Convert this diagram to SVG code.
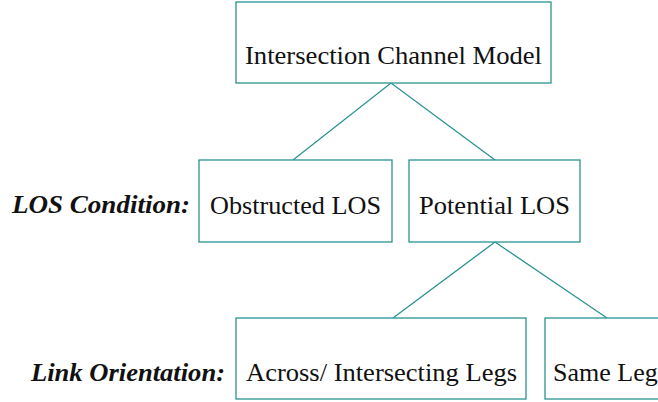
<svg xmlns="http://www.w3.org/2000/svg" width="658" height="402" viewBox="0 0 658 402">
  <style>
    .box { fill: #ffffff; stroke: #2a9292; stroke-width: 1.3; }
    .lbl { font-family: "Liberation Serif", "Times New Roman", Times, "Nimbus Roman", "Nimbus Roman No9 L", Tinos, "Noto Serif", "DejaVu Serif", FreeSerif, serif; font-size: 26px; fill: #111111; }
    .cat { font-family: "Liberation Serif", "Times New Roman", Times, "Nimbus Roman", "Nimbus Roman No9 L", Tinos, "Noto Serif", "DejaVu Serif", FreeSerif, serif; font-size: 26px; font-weight: bold; font-style: italic; fill: #111111; }
    .edge { stroke: #2a9292; stroke-width: 1.3; fill: none; }
  </style>
  <rect width="658" height="402" fill="#ffffff"/>

  <!-- tree connectors -->
  <g id="connectors">
    <polyline class="edge" points="293,160 391,83 495,160"/>
    <polyline class="edge" points="393,318 495,242 607,318"/>
  </g>

  <!-- level captions -->
  <text class="cat" x="12" y="213" textLength="178" lengthAdjust="spacingAndGlyphs">LOS Condition:</text>
  <text class="cat" x="31" y="381" textLength="194" lengthAdjust="spacingAndGlyphs">Link Orientation:</text>

  <g id="root">
    <rect class="box" x="236" y="2" width="315" height="81"/>
    <text class="lbl" x="245" y="64" textLength="297" lengthAdjust="spacingAndGlyphs">Intersection Channel Model</text>
  </g>

  <g id="obstructed">
    <rect class="box" x="199" y="160" width="193" height="82"/>
    <text class="lbl" x="210" y="214" textLength="171" lengthAdjust="spacingAndGlyphs">Obstructed LOS</text>
  </g>

  <g id="potential">
    <rect class="box" x="409" y="160" width="171" height="82"/>
    <text class="lbl" x="419" y="214" textLength="151" lengthAdjust="spacingAndGlyphs">Potential LOS</text>
  </g>

  <g id="across">
    <rect class="box" x="236" y="318" width="290" height="81"/>
    <text class="lbl" x="246" y="381" textLength="271" lengthAdjust="spacingAndGlyphs">Across/ Intersecting Legs</text>
  </g>

  <g id="same-leg">
    <rect class="box" x="545" y="318" width="130" height="81"/>
    <text class="lbl" x="553" y="381">Same Leg</text>
  </g>
</svg>
